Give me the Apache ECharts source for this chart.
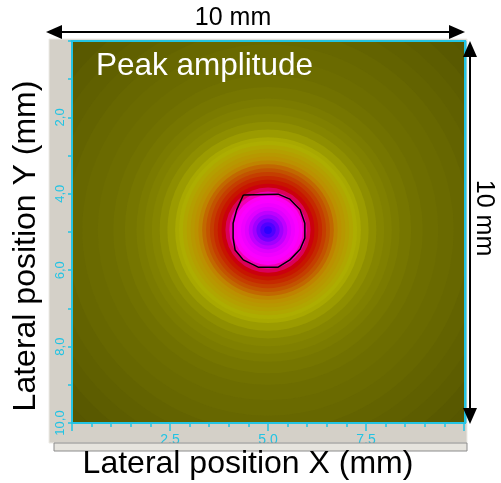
<!DOCTYPE html>
<html>
<head>
<meta charset="utf-8">
<script src="https://cdn.jsdelivr.net/npm/echarts@6/dist/echarts.min.js"></script>
<style>
html,body{margin:0;padding:0;background:#fff;}
#chart{width:501px;height:483px;}
</style>
</head>
<body>
<div id="chart"></div>
<script>
// ---- data ----
// peak position of the amplitude map (mm)
const peakCenter = [5.0, 4.95];
// radial profile of the amplitude map: radius (mm) and amplitude (0-100 colour scale)
const ringRadius = [7.3, 6.8, 6.4, 6.0, 5.6, 5.2, 4.8, 4.4, 4.0, 3.7, 3.4, 3.2, 3.0, 2.8, 2.6, 2.4, 2.3, 2.2, 2.1, 2.0, 1.9, 1.8, 1.7, 1.6, 1.5, 1.4, 1.3, 1.2, 1.1, 1.0, 0.9, 0.8, 0.7, 0.6, 0.5, 0.4, 0.3, 0.2, 0.1];
const ringAmplitude = [2, 4, 7, 10, 13, 16, 19, 21, 24, 27, 30, 32, 34, 38, 43, 48, 50, 52, 54, 56, 58, 60.5, 62.5, 64, 65.5, 67, 68.5, 70.5, 73.5, 77, 79.5, 80.5, 81.5, 83, 86, 89, 93, 96, 99];
// black contour line (mm)
const contourX = [4.37, 5.26, 5.56, 5.82, 5.94, 5.94, 5.82, 5.56, 5.26, 4.75, 4.37, 4.16, 4.11, 4.11, 4.20, 4.37];
const contourY = [4.03, 4.01, 4.14, 4.42, 4.77, 5.16, 5.45, 5.73, 5.92, 5.92, 5.73, 5.47, 5.16, 4.77, 4.42, 4.03];
// axis ticks
const xTickLabels = [2.5, 5.0, 7.5];
const yTickLabels = [2, 4, 6, 8, 10];
// colour scale (amplitude 0..100)
const colourScale = ['#555500', '#606000', '#6b6b00', '#7b7b00', '#939300', '#adad00', '#be8a00', '#c80000', '#ff00ff', '#9600ff', '#2000ff'];

const cyan = '#22c3e3';
const fmt = v => v.toFixed(1).replace('.', ',');

const ringData = ringRadius.map((r, i) => [peakCenter[0], peakCenter[1], r, ringAmplitude[i]]);
const contourData = contourX.map((x, i) => [x, contourY[i]]);

const chart = echarts.init(document.getElementById('chart'), null, {renderer: 'canvas'});
const hiddenAxis = {type: 'value', show: false, min: 0, max: 1};
const option = {
  animation: false,
  backgroundColor: '#ffffff',
  grid: [
    {left: 72, top: 41, width: 392, height: 382, show: false},
    {left: 49, top: 39, width: 418, height: 404, show: true, backgroundColor: '#d4d0c8', borderColor: '#ecebe6', borderWidth: 1}
  ],
  visualMap: {show: false, type: 'continuous', min: 0, max: 100, dimension: 3, seriesIndex: 0, inRange: {color: colourScale}},
  xAxis: [{
    type: 'value', min: 0, max: 10, interval: 2.5, gridIndex: 0, z: 10, position: 'bottom',
    axisLine: {show: true, onZero: false, lineStyle: {color: cyan, width: 2}},
    axisTick: {show: true, length: 8, lineStyle: {color: cyan, width: 1.5}},
    minorTick: {show: true, splitNumber: 5, length: 4, lineStyle: {color: cyan, width: 1.5}},
    splitLine: {show: false}, minorSplitLine: {show: false},
    axisLabel: {color: cyan, fontSize: 14, fontFamily: 'Liberation Sans', margin: 10,
      formatter: v => xTickLabels.some(t => Math.abs(t - v) < 1e-6) ? fmt(v) : ''}
  }, Object.assign({gridIndex: 1}, hiddenAxis)],
  yAxis: [{
    type: 'value', inverse: true, min: 0, max: 10, interval: 2, gridIndex: 0, z: 10, position: 'left',
    axisLine: {show: true, onZero: false, lineStyle: {color: cyan, width: 2}},
    axisTick: {show: true, length: 4, lineStyle: {color: cyan, width: 1.5}},
    minorTick: {show: true, splitNumber: 2, length: 4, lineStyle: {color: cyan, width: 1.5}},
    splitLine: {show: false}, minorSplitLine: {show: false},
    axisLabel: {color: cyan, fontSize: 13, fontFamily: 'Liberation Sans', rotate: 90, margin: 5,
      formatter: v => yTickLabels.some(t => Math.abs(t - v) < 1e-6) ? fmt(v) : ''}
  }, Object.assign({gridIndex: 1}, hiddenAxis)],
  series: [
    {
      type: 'custom', clip: true, data: ringData, xAxisIndex: 0, yAxisIndex: 0,
      encode: {x: 0, y: 1},
      renderItem: function (params, api) {
        const c = api.coord([api.value(0), api.value(1)]);
        const s = api.size([api.value(2), api.value(2)]);
        const r = (Math.abs(s[0]) + Math.abs(s[1])) / 2;
        return {type: 'circle', shape: {cx: c[0], cy: c[1], r: r}, style: {fill: api.visual('color')}};
      }
    },
    {
      type: 'line', data: contourData, symbol: 'none', smooth: false, xAxisIndex: 0, yAxisIndex: 0,
      lineStyle: {color: '#000000', width: 1.5}, z: 5
    }
  ],
  graphic: [
    {type: 'rect', z: 100, silent: true, shape: {x: 54, y: 443, width: 413, height: 8}, style: {fill: '#e6e4de', stroke: '#8c8c8c', lineWidth: 1}},
    {type: 'rect', z: 100, silent: true, shape: {x: 72, y: 41, width: 393, height: 382}, style: {fill: 'none', stroke: cyan, lineWidth: 2}},
    {type: 'line', z: 100, silent: true, shape: {x1: 465.5, y1: 41, x2: 465.5, y2: 423}, style: {stroke: cyan, lineWidth: 2}},
    {type: 'text', z: 100, style: {text: 'Peak amplitude', x: 96, y: 66, fill: '#ffffff', font: '31.5px "Liberation Sans", Arial, sans-serif', textAlign: 'left', textVerticalAlign: 'middle'}},
    // top dimension arrow
    {type: 'line', z: 100, shape: {x1: 60, y1: 32, x2: 452, y2: 32}, style: {stroke: '#000', lineWidth: 2}},
    {type: 'polygon', z: 100, shape: {points: [[46, 32], [62, 25], [62, 39]]}, style: {fill: '#000'}},
    {type: 'polygon', z: 100, shape: {points: [[465, 32], [449, 25], [449, 39]]}, style: {fill: '#000'}},
    {type: 'text', z: 100, style: {text: '10 mm', x: 233, y: 18, fill: '#000', font: '25px "Liberation Sans", Arial, sans-serif', textAlign: 'center', textVerticalAlign: 'middle'}},
    // right dimension arrow
    {type: 'line', z: 100, shape: {x1: 470, y1: 55, x2: 470, y2: 410}, style: {stroke: '#000', lineWidth: 2}},
    {type: 'polygon', z: 100, shape: {points: [[470, 41], [463, 57], [477, 57]]}, style: {fill: '#000'}},
    {type: 'polygon', z: 100, shape: {points: [[470, 424], [463, 408], [477, 408]]}, style: {fill: '#000'}},
    {type: 'text', z: 100, x: 484, y: 218, rotation: -Math.PI / 2, style: {text: '10 mm', x: 0, y: 0, fill: '#000', font: '25px "Liberation Sans", Arial, sans-serif', textAlign: 'center', textVerticalAlign: 'middle'}},
    // axis titles
    {type: 'text', z: 100, x: 26, y: 246, rotation: Math.PI / 2, style: {text: 'Lateral position Y (mm)', x: 0, y: 0, fill: '#000', font: '32px "Liberation Sans", Arial, sans-serif', textAlign: 'center', textVerticalAlign: 'middle'}},
    {type: 'text', z: 100, style: {text: 'Lateral position X (mm)', x: 248, y: 464, fill: '#000', font: '32px "Liberation Sans", Arial, sans-serif', textAlign: 'center', textVerticalAlign: 'middle'}}
  ]
};
chart.setOption(option);
</script>
</body>
</html>
